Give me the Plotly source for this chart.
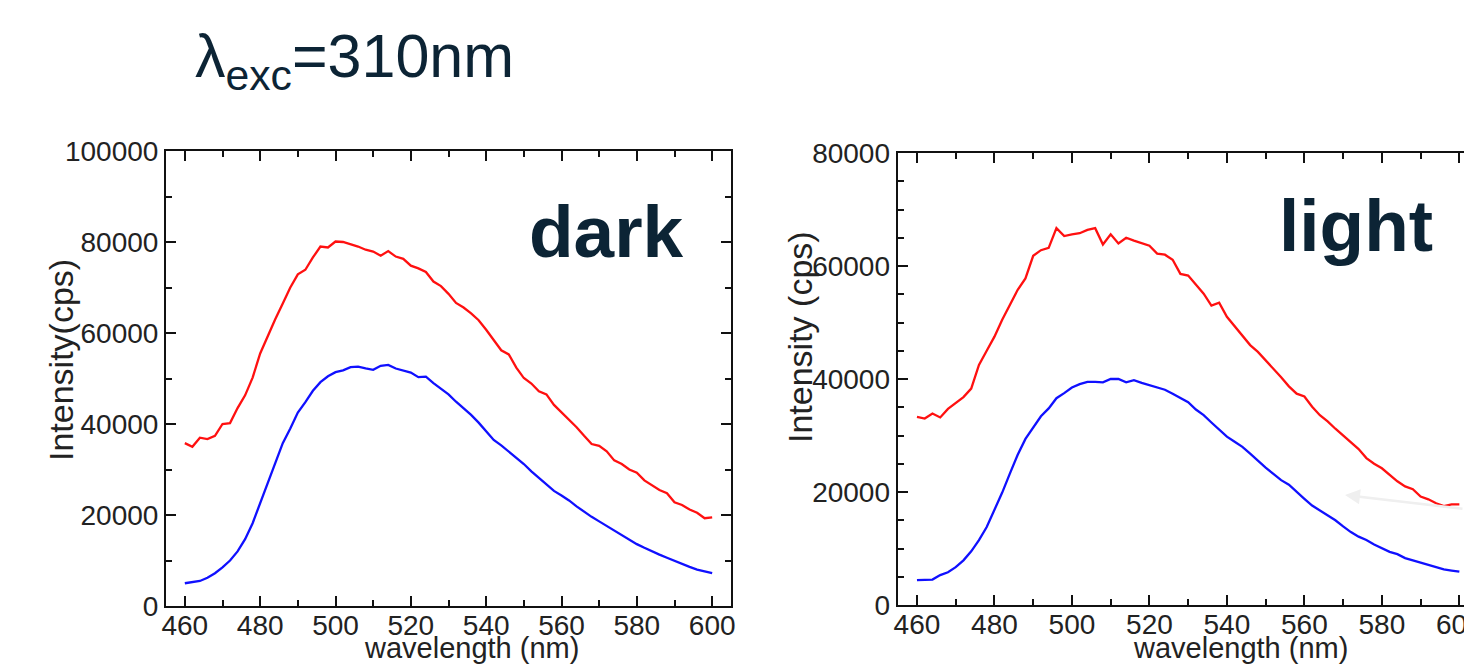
import plotly.graph_objects as go

W, H = 1464, 664

wavelength = list(range(460, 601, 2))

dark_red = [35800, 35000, 37000, 36700, 37400, 40000, 40200, 43500, 46300, 50200,
            55500, 59400, 63000, 66500, 70000, 72900, 73900, 76600, 79000, 78800,
            80100, 80000, 79500, 79000, 78300, 77900, 77000, 78000, 76800, 76300,
            74800, 74200, 73400, 71300, 70300, 68600, 66600, 65600, 64300, 62800,
            60700, 58500, 56200, 55300, 52400, 50100, 48900, 47200, 46500, 44200,
            42600, 41000, 39300, 37400, 35600, 35200, 34000, 32000, 31200, 30000,
            29300, 27600, 26600, 25500, 24800, 22800, 22200, 21200, 20500, 19300,
            19500]
dark_blue = [5000, 5300, 5500, 6200, 7200, 8500, 10000, 12000, 14700, 18200,
             22500, 27000, 31200, 35800, 39000, 42500, 44800, 47300, 49200, 50500,
             51400, 51800, 52500, 52600, 52200, 51900, 52800, 53000, 52200, 51700,
             51300, 50300, 50400, 49000, 47800, 46500, 44900, 43500, 42000, 40300,
             38500, 36500, 35300, 34000, 32600, 31200, 29600, 28200, 26800, 25300,
             24300, 23200, 21900, 20700, 19600, 18600, 17600, 16500, 15500, 14500,
             13600, 12800, 12000, 11300, 10600, 9900, 9300, 8600, 8000, 7600,
             7200]
light_red = [33300, 33000, 33900, 33200, 34700, 35700, 36800, 38300, 42500, 45000,
             47500, 50500, 53300, 55800, 57800, 61800, 62800, 63200, 66700, 65300,
             65600, 65800, 66400, 66700, 63800, 65600, 64000, 65000, 64500, 64100,
             63600, 62200, 62000, 61100, 58600, 58300, 56700, 55100, 53000, 53500,
             51000, 49300, 47800, 46000, 44800, 43300, 41900, 40300, 38700, 37400,
             36900, 35100, 33600, 32500, 31200, 30000, 28800, 27600, 26000, 25000,
             24200, 23000, 21900, 21000, 20500, 19200, 18700, 18000, 17500, 17800,
             17800]
light_blue = [4400, 4400, 4500, 5300, 5800, 6700, 7900, 9500, 11500, 13800,
              16800, 19900, 23300, 26600, 29400, 31500, 33400, 34800, 36600, 37500,
              38500, 39100, 39500, 39500, 39400, 40000, 40000, 39400, 39800, 39300,
              38900, 38600, 38100, 37400, 36600, 35900, 34600, 33600, 32300, 31000,
              29800, 28900, 28000, 26800, 25500, 24300, 23200, 22100, 21300, 20000,
              18800, 17600, 16700, 15900, 15000, 13900, 12900, 12100, 11500, 10700,
              10000, 9400, 9000, 8300, 7900, 7500, 7000, 6600, 6300, 6100,
              5900]

x_ticks = [460, 480, 500, 520, 540, 560, 580, 600]
y_ticks_dark = [0, 20000, 40000, 60000, 80000, 100000]
y_ticks_light = [0, 20000, 40000, 60000, 80000]

title_text = "λ<sub>exc</sub>=310nm"
panel_labels = ["dark", "light"]
x_title = "wavelength (nm)"
y_titles = ["Intensity(cps)", "Intensity (cps)"]

SANS = "Liberation Sans, Arial, sans-serif"
TICK_FONT = dict(family=SANS, size=28, color="#222222")
NAVY = "#0c2435"

fig = go.Figure()
fig.add_trace(go.Scatter(x=wavelength, y=dark_red, mode="lines",
                         line=dict(color="#ff1010", width=2.3), xaxis="x", yaxis="y"))
fig.add_trace(go.Scatter(x=wavelength, y=dark_blue, mode="lines",
                         line=dict(color="#1010ff", width=2.3), xaxis="x", yaxis="y"))
fig.add_trace(go.Scatter(x=wavelength, y=light_red, mode="lines",
                         line=dict(color="#ff1010", width=2.3), xaxis="x2", yaxis="y2"))
fig.add_trace(go.Scatter(x=wavelength, y=light_blue, mode="lines",
                         line=dict(color="#1010ff", width=2.3), xaxis="x2", yaxis="y2"))

common_axis = dict(showgrid=False, zeroline=False, showline=True, linecolor="#111111",
                   linewidth=2, ticks="inside", ticklen=10, tickwidth=2, tickcolor="#111111",
                   tickfont=TICK_FONT, automargin=False)

fig.update_layout(
    width=W, height=H, margin=dict(l=0, r=0, t=0, b=0, autoexpand=False),
    paper_bgcolor="white", plot_bgcolor="white", showlegend=False,
    xaxis=dict(common_axis, domain=[166 / W, 731 / W], range=[455, 605],
               tickvals=x_ticks, mirror="ticks", ticklabelstandoff=-7,
               minor=dict(dtick=10, tick0=460, ticks="inside", ticklen=6, tickwidth=1.5,
                          tickcolor="#111111"),
               anchor="y"),
    yaxis=dict(common_axis, domain=[58 / H, 513 / H], range=[0, 100000],
               tickvals=y_ticks_dark, tickformat="d", mirror="ticks",
               minor=dict(dtick=10000, ticks="inside", ticklen=6, tickwidth=1.5,
                          tickcolor="#111111"),
               anchor="x"),
    xaxis2=dict(common_axis, domain=[897.6 / W, 1.0], range=[455, 601.2],
                tickvals=x_ticks, mirror="ticks", ticklabeloverflow="allow",
                ticklabelstandoff=-7,
                minor=dict(dtick=10, tick0=460, ticks="inside", ticklen=6, tickwidth=1.5,
                           tickcolor="#111111"),
                anchor="y2"),
    yaxis2=dict(common_axis, domain=[59 / H, 511 / H], range=[0, 80000],
                tickvals=y_ticks_light, tickformat="d", mirror=False,
                minor=dict(dtick=5000, ticks="inside", ticklen=6, tickwidth=1.5,
                           tickcolor="#111111"),
                anchor="x2"),
)

ann = []
# main title
ann.append(dict(text=title_text, x=193 / W, y=1 - 60 / H, xref="paper", yref="paper",
                xanchor="left", yanchor="middle", showarrow=False,
                font=dict(family=SANS, size=61, color=NAVY)))
# panel labels
ann.append(dict(text="<b>" + panel_labels[0] + "</b>", x=606 / W, y=1 - 231 / H,
                xref="paper", yref="paper", xanchor="center", yanchor="middle",
                showarrow=False, font=dict(family=SANS, size=73, color=NAVY)))
ann.append(dict(text="<b>" + panel_labels[1] + "</b>", x=1356 / W, y=1 - 225 / H,
                xref="paper", yref="paper", xanchor="center", yanchor="middle",
                showarrow=False, font=dict(family=SANS, size=73, color=NAVY)))
# axis titles
X_TITLE_FONT = dict(family=SANS, size=29, color="#222222")
Y_TITLE_FONT = dict(family=SANS, size=34, color="#222222")
ann.append(dict(text=y_titles[0], x=61 / W, y=1 - 360 / H, xref="paper", yref="paper",
                xanchor="center", yanchor="middle", textangle=-90, showarrow=False,
                font=Y_TITLE_FONT))
ann.append(dict(text=y_titles[1], x=800 / W, y=1 - 337 / H, xref="paper", yref="paper",
                xanchor="center", yanchor="middle", textangle=-90, showarrow=False,
                font=Y_TITLE_FONT))
ann.append(dict(text=x_title, x=471 / W, y=1 - 648 / H, xref="paper", yref="paper",
                xanchor="center", yanchor="middle", showarrow=False, font=X_TITLE_FONT))
ann.append(dict(text=x_title, x=1240 / W, y=1 - 648 / H, xref="paper", yref="paper",
                xanchor="center", yanchor="middle", showarrow=False, font=X_TITLE_FONT))
# faint arrow
ann.append(dict(text="", x=1345 / W, y=1 - 495 / H, xref="paper", yref="paper",
                ax=119, ay=14, axref="pixel", ayref="pixel",
                showarrow=True, arrowhead=2, arrowsize=1.2, arrowwidth=2.5,
                arrowcolor="#efefef"))

fig.update_layout(annotations=ann)
fig.write_html("out.html")
